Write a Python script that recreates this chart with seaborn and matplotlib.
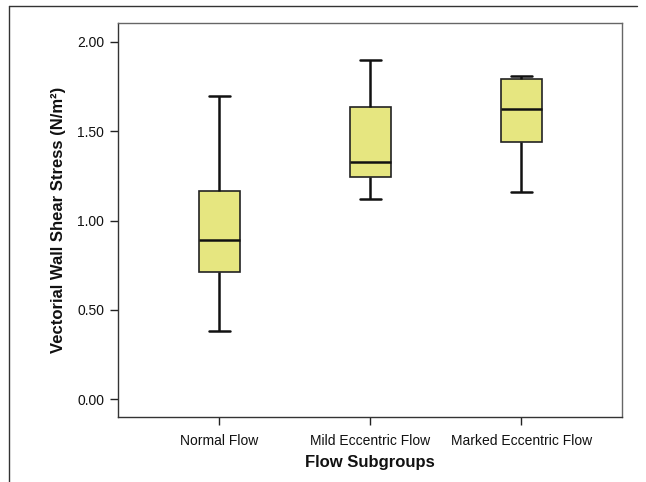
import numpy as np
import pandas as pd
import matplotlib
matplotlib.use("Agg")
import matplotlib.pyplot as plt
from matplotlib.lines import Line2D
import seaborn as sns

categories = ["Normal Flow", "Mild Eccentric Flow", "Marked Eccentric Flow"]
# five-number summaries: min, Q1, median, Q3, max
normal_vals = [0.38, 0.71, 0.89, 1.165, 1.70]
mild_vals = [1.12, 1.245, 1.325, 1.635, 1.90]
marked_vals = [1.16, 1.44, 1.625, 1.795, 1.81]
yticks = [0.0, 0.5, 1.0, 1.5, 2.0]
ytick_labels = ["0.00", "0.50", "1.00", "1.50", "2.00"]

df = pd.DataFrame({
    "group": [categories[0]] * len(normal_vals) + [categories[1]] * len(mild_vals) + [categories[2]] * len(marked_vals),
    "value": normal_vals + mild_vals + marked_vals,
})

sns.set_theme(style="white")
plt.rcParams["font.family"] = ["Liberation Sans", "DejaVu Sans"]

fig = plt.figure(figsize=(6.46, 4.82), dpi=100)
ax = fig.add_axes([118 / 646, 1 - 417 / 482, (622 - 118) / 646, (417 - 23) / 482])

sns.boxplot(
    data=df, x="group", y="value", order=categories, ax=ax,
    color="#E6E680", width=0.27, whis=np.inf, saturation=1,
    boxprops=dict(edgecolor="#222222", linewidth=1.2),
    medianprops=dict(color="#111111", linewidth=1.8),
    whiskerprops=dict(color="#111111", linewidth=1.8),
    capprops=dict(color="#111111", linewidth=1.8),
    showfliers=False,
)

ax.set_xlim(-0.672, 2.666)
ax.set_ylim(-0.10, 2.106)
ax.set_yticks(yticks)
ax.set_yticklabels(ytick_labels)
ax.tick_params(axis="both", which="both", direction="out", length=6, width=1,
               color="#222222", labelsize=10, pad=4, left=True, bottom=True,
               labelcolor="#111111")
ax.tick_params(axis="x", pad=6)
for s in ax.spines.values():
    s.set_visible(True)
    s.set_color("#333333")
    s.set_linewidth(1.0)
ax.spines["top"].set_color("#666666")
ax.spines["right"].set_color("#666666")

ax.set_xlabel("Flow Subgroups", fontsize=12, fontweight="bold", labelpad=5, color="#111111")
ax.set_ylabel("Vectorial Wall Shear Stress (N/m²)", fontsize=12, fontweight="bold", labelpad=8, color="#111111")

# outer frame lines (top and left)
fig.add_artist(Line2D([9 / 646, 637 / 646], [1 - 6 / 482, 1 - 6 / 482], transform=fig.transFigure, color="#333333", linewidth=1.0))
fig.add_artist(Line2D([9 / 646, 9 / 646], [1 - 6 / 482, 0], transform=fig.transFigure, color="#333333", linewidth=1.0))

fig.savefig("out.png", dpi=100, facecolor="white")
